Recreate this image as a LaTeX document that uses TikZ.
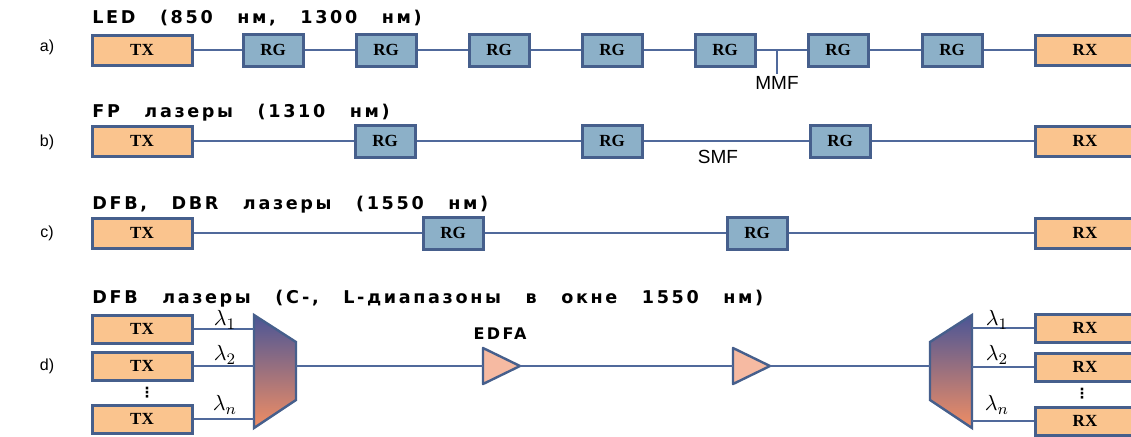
\documentclass[tikz,border=0pt]{standalone}
\usepackage{fontspec}
\setmainfont{Liberation Sans}
\newfontfamily\titlefont[LetterSpace=15,WordSpace=2.8]{DejaVu Sans}
\newfontfamily\boxfont{Liberation Serif}
\newfontfamily\symfont{DejaVu Sans}
\usetikzlibrary{positioning,calc}
\definecolor{edge}{RGB}{70,95,140}
\definecolor{wire}{RGB}{80,105,155}
\definecolor{txfill}{RGB}{250,196,142}
\definecolor{rgfill}{RGB}{140,176,200}
\definecolor{ampfill}{RGB}{246,186,162}
\definecolor{muxtop}{RGB}{75,85,150}
\definecolor{muxmid}{RGB}{200,100,150}
\definecolor{muxbot}{RGB}{240,142,100}

\begin{document}
\begin{tikzpicture}[x=0.5pt,y=-0.5pt,
term/.style={draw=edge,line width=1.5pt,fill=txfill,minimum width=50pt,minimum height=15pt,inner sep=0pt,font=\boxfont\bfseries\fontsize{8.5}{9}\selectfont},
rg/.style={draw=edge,line width=1.5pt,fill=rgfill,minimum width=30pt,minimum height=16pt,inner sep=0pt,font=\boxfont\bfseries\fontsize{8.5}{9}\selectfont},
fib/.style={draw=wire,line width=1pt},
ttl/.style={anchor=west,font=\titlefont\bfseries\fontsize{8.8}{10}\selectfont,inner sep=0pt},
row/.style={font=\fontsize{8}{9}\selectfont,inner sep=0pt},
amp/.style={draw=edge,line width=1.2pt,fill=ampfill,line join=round},
mux/.style={draw=edge,line width=1.2pt,top color=muxtop,middle color=muxmid,bottom color=muxbot},
lam/.style={font=\fontsize{11}{12}\selectfont,inner sep=0pt},
dots/.style={inner sep=0pt,font=\symfont\bfseries\fontsize{7}{7}\selectfont}]
\useasboundingbox[fill=white] (0,0) rectangle (1131,436);
% a) LED
\node[row] (la) at (47,47) {a)};
\node[ttl] (ta) at (92,18) {LED (850 нм, 1300 нм)};
\node[term] (txa) at (142,50) {TX};
\foreach \i/\x in {1/273,2/386,3/499,4/612,5/725,6/838,7/952}{\node[rg] (ga\i) at (\x,50) {RG};}
\node[term] (rxa) at (1085,50) {RX};
\draw[fib] (txa) -- (ga1) -- (ga2) -- (ga3) -- (ga4) -- (ga5) -- (ga6) -- (ga7) -- (rxa);
\node[anchor=north,inner sep=1pt,font=\fontsize{9.5}{10}\selectfont] (mmf) at (777,74) {MMF};
\draw[fib] (mmf.north |- txa) -- (mmf.north);
% b) FP
\node[row] (lb) at (47,142) {b)};
\node[ttl] (tb) at (92,113) {FP лазеры (1310 нм)};
\node[term] (txb) at (142,141) {TX};
\foreach \i/\x in {1/385,2/612,3/840}{\node[rg] (gb\i) at (\x,141) {RG};}
\node[term] (rxb) at (1085,141) {RX};
\draw[fib] (txb) -- (gb1) -- (gb2) -- (gb3) -- (rxb);
\node[font=\fontsize{9.5}{10}\selectfont] (smf) at (718,157) {SMF};
% c) DFB, DBR
\node[row] (lc) at (47,233) {c)};
\node[ttl] (tc) at (92,205) {DFB, DBR лазеры (1550 нм)};
\node[term] (txc) at (142,233) {TX};
\foreach \i/\x in {1/453,2/757}{\node[rg] (gc\i) at (\x,233) {RG};}
\node[term] (rxc) at (1085,233) {RX};
\draw[fib] (txc) -- (gc1) -- (gc2) -- (rxc);
% d) WDM
\node[row] (ld) at (47,366) {d)};
\node[ttl] (td) at (92,299) {DFB лазеры (C-, L-диапазоны в окне 1550 нм)};
\foreach \i/\y in {1/329,2/366,3/419}{\node[term,minimum height=14pt] (td\i) at (142,\y) {TX};}
\node[dots] (tdots) at (147,393) {⋮};
\draw[mux] (254,315) -- (296,342) -- (296,400) -- (254,428) -- cycle;
\coordinate (mxin) at (254,366);
\coordinate (mxout) at (296,366);
\foreach \i in {1,2,3}{\draw[fib] (td\i) -- (td\i -| mxin);}
\node[lam] (l1) at (225,320) {$\lambda_1$};
\node[lam] (l2) at (225,355) {$\lambda_2$};
\node[lam] (l3) at (225,405) {$\lambda_n$};
\coordinate (ea1) at (483,366);
\coordinate (ea1tip) at (520,366);
\coordinate (ea2) at (733,366);
\coordinate (ea2tip) at (770,366);
\draw[amp] (ea1) -- ++(0,-18) -- (ea1tip) -- ++(-37,18) -- cycle;
\draw[amp] (ea2) -- ++(0,-18) -- (ea2tip) -- ++(-37,18) -- cycle;
\node[font=\titlefont\bfseries\fontsize{8}{9}\selectfont,inner sep=0pt] (edfa) at (500,334) {EDFA};
\draw[fib] (mxout) -- (ea1);
\draw[fib] (ea1tip) -- (ea2);
\draw[mux] (930,342) -- (972,315) -- (972,428) -- (930,400) -- cycle;
\coordinate (dmxin) at (930,366);
\coordinate (dmxout) at (972,366);
\draw[fib] (ea2tip) -- (dmxin);
\foreach \i/\y in {1/328,2/367,3/421}{\node[term,minimum height=14pt] (rd\i) at (1085,\y) {RX};}
\node[dots] (rdots) at (1082,394) {⋮};
\foreach \i in {1,2,3}{\draw[fib] (rd\i -| dmxout) -- (rd\i);}
\node[lam] (r1) at (997,320) {$\lambda_1$};
\node[lam] (r2) at (997,355) {$\lambda_2$};
\node[lam] (r3) at (997,405) {$\lambda_n$};
\end{tikzpicture}
\end{document}
